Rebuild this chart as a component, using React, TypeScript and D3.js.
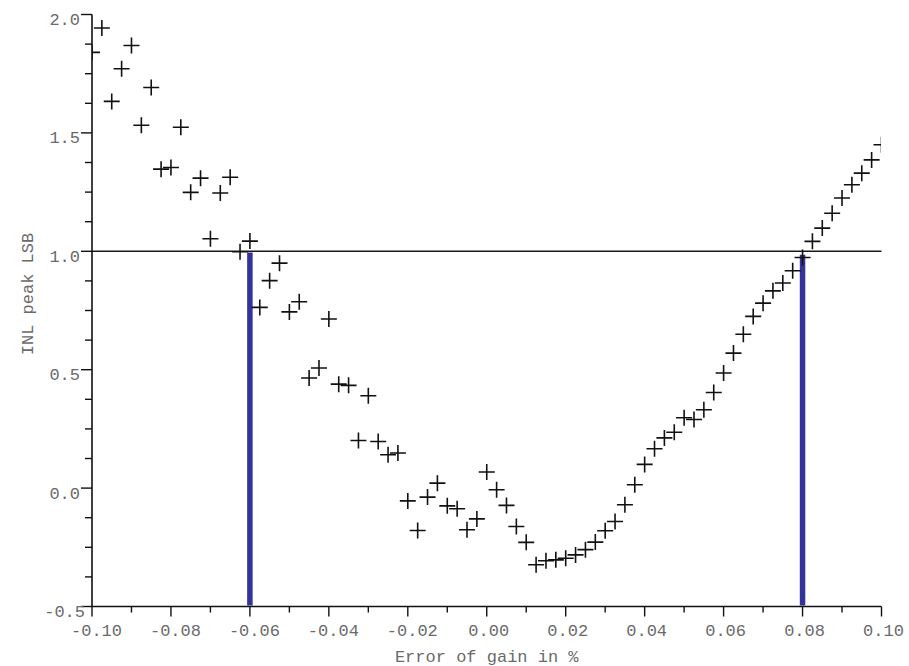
import React from "react";
import * as d3 from "d3";

const gainError = [
  -0.1, -0.0975, -0.095, -0.0925, -0.09, -0.0875, -0.085, -0.0825, -0.08, -0.0775,
  -0.075, -0.0725, -0.07, -0.0675, -0.065, -0.0625, -0.06, -0.0575, -0.055, -0.0525,
  -0.05, -0.0475, -0.045, -0.0425, -0.04, -0.0375, -0.035, -0.0325, -0.03, -0.0275,
  -0.025, -0.0225, -0.02, -0.0175, -0.015, -0.0125, -0.01, -0.0075, -0.005, -0.0025,
  0.0, 0.0025, 0.005, 0.0075, 0.01, 0.0125, 0.015, 0.0175, 0.02, 0.0225,
  0.025, 0.0275, 0.03, 0.0325, 0.035, 0.0375, 0.04, 0.0425, 0.045, 0.0475,
  0.05, 0.0525, 0.055, 0.0575, 0.06, 0.0625, 0.065, 0.0675, 0.07, 0.0725,
  0.075, 0.0775, 0.08, 0.0825, 0.085, 0.0875, 0.09, 0.0925, 0.095, 0.0975,
  0.1,
];

const inlPeak = [
  1.84, 1.943, 1.633, 1.771, 1.869, 1.532, 1.692, 1.347, 1.354, 1.524,
  1.249, 1.309, 1.053, 1.246, 1.313, 0.998, 1.043, 0.763, 0.876, 0.95,
  0.744, 0.787, 0.465, 0.507, 0.714, 0.439, 0.434, 0.201, 0.39, 0.197,
  0.141, 0.148, -0.054, -0.179, -0.038, 0.021, -0.075, -0.087, -0.176, -0.13,
  0.068, -0.007, -0.073, -0.162, -0.229, -0.324, -0.307, -0.303, -0.296, -0.282,
  -0.26, -0.228, -0.18, -0.141, -0.07, 0.014, 0.1, 0.166, 0.212, 0.236,
  0.297, 0.29, 0.331, 0.404, 0.486, 0.57, 0.65, 0.725, 0.781, 0.833,
  0.866, 0.918, 0.974, 1.042, 1.098, 1.161, 1.225, 1.281, 1.33, 1.386,
  1.45,
];

const xTickValues = [-0.1, -0.08, -0.06, -0.04, -0.02, 0, 0.02, 0.04, 0.06, 0.08, 0.1];
const xTickLabels = ["-0.10", "-0.08", "-0.06", "-0.04", "-0.02", "0.00", "0.02", "0.04", "0.06", "0.08", "0.10"];
const yTickValues = [-0.5, 0, 0.5, 1.0, 1.5, 2.0];
const yTickLabels = ["-0.5", "0.0", "0.5", "1.0", "1.5", "2.0"];

const thresholdLevel = 1.0;
const limitGains = [-0.06, 0.08];
const limitTops = [0.995, 0.985];

const xTitle = "Error of gain in %";
const yTitle = "INL peak LSB";

export default function App() {
  const left = 92;
  const right = 881.5;
  const top = 14.5;
  const bottom = 606.5;
  const x = d3.scaleLinear().domain([-0.1, 0.1]).range([left, right]);
  const y = d3.scaleLinear().domain([-0.5, 2.0]).range([bottom, top]);

  const xMinor = d3.range(0, 21).map((i) => -0.1 + i * 0.01);
  const yMinor = d3.range(0, 21).map((i) => -0.5 + i * 0.125);

  const font = "'Liberation Mono', 'Courier New', monospace";
  const labelColor = "#6a6a6a";
  const points = gainError.map((g, i) => ({ g, v: inlPeak[i] }));
  const plus = "M-8,0H8M0,-8V8";

  return (
    <svg
      width={909}
      height={666}
      style={{ position: "absolute", left: 0, top: 0, background: "#fff" }}
    >
      <defs>
        <clipPath id="plotClip">
          <rect x={left} y={0} width={right - left - 0.5} height={bottom} />
        </clipPath>
      </defs>
      <rect x={0} y={0} width={909} height={666} fill="#fff" />

      {/* threshold line */}
      <line
        x1={left}
        x2={right}
        y1={y(thresholdLevel)}
        y2={y(thresholdLevel)}
        stroke="#1a1a1a"
        strokeWidth={1.4}
      />

      {/* blue limit lines */}
      {limitGains.map((g, i) => (
        <line
          key={"lim" + i}
          x1={x(g)}
          x2={x(g)}
          y1={y(limitTops[i])}
          y2={bottom - 1}
          stroke="#333399"
          strokeWidth={5.5}
        />
      ))}

      {/* markers */}
      <g clipPath="url(#plotClip)">
        {points.map((p, i) => (
          <path
            key={"p" + i}
            d={plus}
            transform={`translate(${x(p.g)},${y(p.v)})`}
            stroke="#111"
            strokeWidth={1.6}
            fill="none"
          />
        ))}
      </g>

      {/* axes */}
      <line x1={left} x2={left} y1={top} y2={bottom} stroke="#111" strokeWidth={1.6} />
      <line x1={left} x2={right} y1={bottom} y2={bottom} stroke="#111" strokeWidth={1.6} />

      {yMinor.map((v, i) => {
        const major = i % 4 === 0;
        return (
          <line
            key={"ym" + i}
            x1={left - (major ? 11 : 7)}
            x2={left}
            y1={y(v)}
            y2={y(v)}
            stroke="#111"
            strokeWidth={1.4}
          />
        );
      })}
      {xMinor.map((v, i) => {
        const major = i % 2 === 0;
        return (
          <line
            key={"xm" + i}
            x1={x(v)}
            x2={x(v)}
            y1={bottom}
            y2={bottom + (major ? 10 : 6)}
            stroke="#111"
            strokeWidth={1.4}
          />
        );
      })}

      {yTickValues.map((v, i) => (
        <text
          key={"yl" + i}
          x={left - 12 + (v < 0 ? 5 : 0)}
          y={y(v) + 10.5}
          textAnchor="end"
          fontFamily={font}
          fontSize={17}
          fill={labelColor}
        >
          {yTickLabels[i]}
        </text>
      ))}
      {xTickValues.map((v, i) => (
        <text
          key={"xl" + i}
          x={x(v) + (v < 0 ? 4.5 : 2)}
          y={636}
          textAnchor="middle"
          fontFamily={font}
          fontSize={17}
          fill={labelColor}
        >
          {xTickLabels[i]}
        </text>
      ))}

      <text
        x={(left + right) / 2}
        y={662}
        textAnchor="middle"
        fontFamily={font}
        fontSize={17}
        fill={labelColor}
      >
        {xTitle}
      </text>
      <text
        transform={`translate(33,294) rotate(-90)`}
        textAnchor="middle"
        fontFamily={font}
        fontSize={17}
        fill={labelColor}
      >
        {yTitle}
      </text>
    </svg>
  );
}
